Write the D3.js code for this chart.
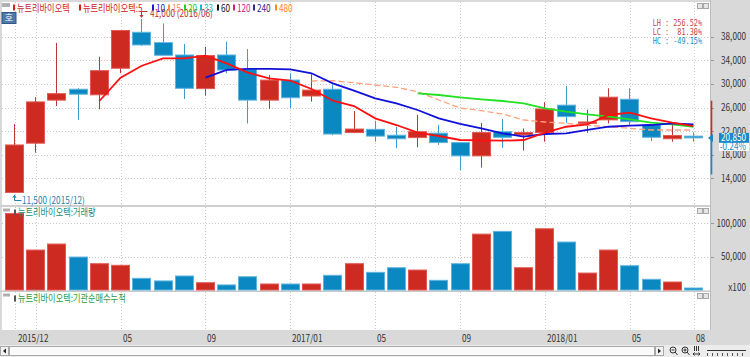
<!DOCTYPE html>
<html><head><meta charset="utf-8">
<script src="https://cdn.jsdelivr.net/npm/d3@7"></script>
<style>html,body{margin:0;padding:0;background:#fff;overflow:hidden}svg{display:block}</style>
</head><body><svg id="c" width="750" height="357"></svg>
<script>
// ---------------- DATA ----------------
const months = ["2015/12","2016/01","2016/02","2016/03","2016/04","2016/05","2016/06","2016/07","2016/08","2016/09","2016/10","2016/11",
  "2016/12","2017/01","2017/02","2017/03","2017/04","2017/05","2017/06","2017/07","2017/08","2017/09","2017/10","2017/11",
  "2017/12","2018/01","2018/02","2018/03","2018/04","2018/05","2018/06","2018/07","2018/08"];
const openP  = [11600,19950,27250,29100,28150,32650,38750,37000,34900,29200,34900,32450,27250,30650,27950,29100,21750,22300,21300,20900,21650,20050,17800,21900,21350,21750,26400,23350,23900,27400,23050,20700,21150];
const highP  = [23200,27750,36950,29250,34600,39100,41000,40250,36750,36300,37150,35900,31500,31800,31650,29800,25400,23750,22750,24750,23050,20100,23400,24050,22450,26900,29650,25600,29250,29250,23100,23050,21800];
const lowP   = [11500,18350,26250,23900,25700,31800,36450,34800,27450,28000,31800,23300,25750,25850,27000,21300,21650,20200,19100,19250,19650,15400,15800,19200,18700,20200,23400,21700,23300,23050,20300,20200,20200];
const closeP = [19650,26950,28350,28250,32250,39050,36600,34850,29250,34800,32350,27250,30650,27650,28950,21500,22350,21150,20700,21900,20050,17800,21750,20950,21750,25750,24450,23550,27750,23600,20950,21250,20850];
const volume = [114800,59900,68900,49400,39400,37000,17500,13600,21000,10900,7600,19900,9000,9000,9000,22000,39400,26500,33400,29900,14500,39400,83800,87900,33400,91800,71900,25400,59900,36400,16000,12000,3000];
const ma5  = [null,null,null,null,27100,31050,33080,34340,34340,34800,33490,31900,30950,30540,29140,27150,26250,24170,23030,21730,21170,20490,20440,20370,20490,21730,22740,23150,24730,25120,24170,23420,22850];
const ma10 = [null,null,null,null,null,null,null,null,null,31050,32360,32530,32530,32470,31800,30100,28850,27560,26710,25580,24170,23240,22470,21630,21050,21510,21630,22190,22740,22920,23030,23320,23150];
const ma15 = [null,null,null,null,null,null,null,null,null,null,null,null,null,null,30490,30540,30200,29810,29420,28680,27270,25910,25460,24900,23880,23540,23320,22980,22740,22470,22190,22190,22190];
const ma20 = [null,null,null,null,null,null,null,null,null,null,null,null,null,null,null,null,null,null,null,28410,28120,27700,27390,27100,26710,25860,25290,24850,24440,24000,23420,23150,22740];
const priceTicks = [14000,18000,22000,26000,30000,34000,38000];
const volTicks = [50000,100000];
const xLabelIdx = [0,5,9,13,17,21,25,29,32];
const xLabelText = ["2015/12","05","09","2017/01","05","09","2018/01","05","08"];
const gridIdx = [0,1,5,9,13,17,21,25,29,32];
const legendNames = ["뉴트리바이오텍","뉴트리바이오텍:5","10","15","20","33","60","120","240","480"];
const legendColors = ["#c8282a","#d42020","#1a1ad8","#ff8a50","#22cc22","#20b8c8","#111111","#e0188a","#2a2a90","#ff8a20"];
const legendX = [13,79,152,168,184,200,217,233,253,275];
const lastPrice = 20850, changePct = "-0.24%", upperLimit = 27150, lowerLimit = 14650;
const statLines = ["LH : 256.52%","LC :  81.30%","HC : -49.15%"];
const highNote = "41,000 (2016/06)", lowNote = "11,500 (2015/12)";
const volTitle = "뉴트리바이오텍:거래량", instTitle = "뉴트리바이오텍:기관순매수누적";

// ---------------- SETUP ----------------
const FONT = "'Noto Sans CJK KR','Noto Sans',sans-serif";
const svg = d3.select("#c");
const W = 750, H = 357;
const PX0 = 2, PX1 = 710;               // plot x extent
const MAIN = [2, 205], VOL = [207, 290.5], INST = [292, 330];

const x = d3.scaleLinear().domain([0, 32]).range([14.5, 693.5]);
const y = d3.scaleLinear().domain([14000, 38000]).range([178.3, 36.7]);
const yv = d3.scaleLinear().domain([0, 100000]).range([290, 223.3]);

function label(parent, px, py, s, o = {}) {
  const g = parent.append("g").attr("transform", `translate(${px},${py}) scale(${o.sx ?? 0.82},1)`);
  return g.append("text").attr("x", 0).attr("y", 0).attr("dy", o.dy ?? "0.35em")
    .attr("text-anchor", o.anchor || "start").attr("font-family", o.family || FONT)
    .attr("font-size", o.size || 10).attr("fill", o.fill || "#333").attr("xml:space", "preserve").text(s);
}

// backgrounds
svg.append("rect").attr("width", W).attr("height", H).attr("fill", "#d9d9d9");
[MAIN, VOL, INST].forEach(p => {
  svg.append("rect").attr("x", PX0).attr("y", p[0]).attr("width", PX1 - PX0).attr("height", p[1] - p[0]).attr("fill", "#fff");
});
svg.append("line").attr("x1", 0).attr("x2", PX1).attr("y1", 206).attr("y2", 206).attr("stroke", "#c4c4c4");
svg.append("line").attr("x1", 0).attr("x2", PX1).attr("y1", 291.2).attr("y2", 291.2).attr("stroke", "#c4c4c4");
svg.append("line").attr("x1", PX1 + 0.5).attr("x2", PX1 + 0.5).attr("y1", 0).attr("y2", 330).attr("stroke", "#bdbdbd");

// vertical grid
const grid = svg.append("g").attr("stroke", "#c8c8c8").attr("stroke-dasharray", "1,2");
[MAIN, VOL, INST].forEach(p => {
  grid.selectAll(null).data(gridIdx).join("line")
    .attr("x1", d => Math.round(x(d)) + 0.5).attr("x2", d => Math.round(x(d)) + 0.5)
    .attr("y1", p[0]).attr("y2", p[1]);
});
// horizontal grid main
grid.selectAll(null).data(priceTicks).join("line")
  .attr("x1", PX0).attr("x2", PX1).attr("y1", d => Math.round(y(d)) + 0.5).attr("y2", d => Math.round(y(d)) + 0.5);
grid.selectAll(null).data(volTicks).join("line")
  .attr("x1", PX0).attr("x2", PX1).attr("y1", d => Math.round(yv(d)) + 0.5).attr("y2", d => Math.round(yv(d)) + 0.5);

// clip
svg.append("clipPath").attr("id", "cm").append("rect").attr("x", PX0).attr("y", MAIN[0]).attr("width", PX1 - PX0).attr("height", MAIN[1] - MAIN[0]);
const main = svg.append("g").attr("clip-path", "url(#cm)");

const up = i => closeP[i] >= openP[i];
const RED = "#cd2a22", RED_E = "#e25a52", RED_W = "#b8383a";
const BLUE = "#0b87c1", BLUE_E = "#5fb5e0", BLUE_W = "#3c9ad0";

// candles
const idx = d3.range(months.length);
main.selectAll(".wick").data(idx).join("line")
  .attr("x1", i => Math.floor(x(i)) + 0.5).attr("x2", i => Math.floor(x(i)) + 0.5)
  .attr("y1", i => y(highP[i])).attr("y2", i => y(lowP[i]))
  .attr("stroke", i => up(i) ? RED_W : BLUE_W).attr("stroke-width", 1);
main.selectAll(".body").data(idx).join("rect")
  .attr("x", i => Math.floor(x(i)) - 9 + 0.5)
  .attr("y", i => y(Math.max(openP[i], closeP[i])))
  .attr("width", 18)
  .attr("height", i => Math.max(1.5, Math.abs(y(openP[i]) - y(closeP[i]))))
  .attr("fill", i => up(i) ? RED : BLUE)
  .attr("stroke", i => up(i) ? RED_E : BLUE_E).attr("stroke-width", 1);

// moving averages
const lineGen = d3.line().defined(d => d.v != null).x(d => x(d.i)).y(d => y(d.v));
const asPts = arr => arr.map((v, i) => ({ i, v }));
main.append("path").attr("d", lineGen(asPts(ma15))).attr("fill", "none").attr("stroke", "#ffa27c").attr("stroke-width", 1.3).attr("stroke-dasharray", "6,3");
main.append("path").attr("d", lineGen(asPts(ma20))).attr("fill", "none").attr("stroke", "#22e022").attr("stroke-width", 1.8);
main.append("path").attr("d", lineGen(asPts(ma10))).attr("fill", "none").attr("stroke", "#1010d8").attr("stroke-width", 1.8);
main.append("path").attr("d", lineGen(asPts(ma5))).attr("fill", "none").attr("stroke", "#ff1010").attr("stroke-width", 1.8);

// high / low notes
const hi = d3.maxIndex(highP), lo = d3.minIndex(lowP);
const hx = Math.floor(x(hi)) + 0.5, lx = Math.floor(x(lo)) + 0.5;
svg.append("path").attr("d", `M${hx + 6},11.5 H${hx} V${y(highP[hi]) - 2}`).attr("fill", "none").attr("stroke", "#c03030");
svg.append("path").attr("d", `M${hx - 2},${y(highP[hi]) - 4} L${hx + 2},${y(highP[hi]) - 4} L${hx},${y(highP[hi]) - 1}Z`).attr("fill", "#c03030");
label(svg, 150, 13.5, highNote, { fill: "#b83030" });
svg.append("path").attr("d", `M${lx + 7},200.5 H${lx} V${y(lowP[lo]) + 2}`).attr("fill", "none").attr("stroke", "#2a82b0");
svg.append("path").attr("d", `M${lx - 2},${y(lowP[lo]) + 4.5} L${lx + 2},${y(lowP[lo]) + 4.5} L${lx},${y(lowP[lo]) + 1.5}Z`).attr("fill", "#2a82b0");
label(svg, 22, 200, lowNote, { fill: "#2a82b0" });

// legend
legendNames.forEach((n, k) => {
  svg.append("rect").attr("x", legendX[k]).attr("y", 4.5).attr("width", 2).attr("height", 6).attr("fill", legendColors[k]);
  label(svg, legendX[k] + 4, 8, n, { fill: legendColors[k] });
});
// 호 button & small boxes
svg.append("rect").attr("x", 2).attr("y", 3).attr("width", 8).attr("height", 4).attr("fill", "#b0b0b0");
svg.append("rect").attr("x", 2).attr("y", 12.5).attr("width", 14).attr("height", 11).attr("fill", "#4f79a8").attr("stroke", "#2f5888");
label(svg, 9, 18, "호", { anchor: "middle", fill: "#fff", size: 9, sx: 1 });
[[3.5], [208.5], [293.5]].forEach(([yy]) => {
  svg.append("rect").attr("x", 697.5).attr("y", yy).attr("width", 5).attr("height", 5).attr("fill", "#e6e6e6").attr("stroke", "#a8a8a8");
  svg.append("rect").attr("x", 703.5).attr("y", yy).attr("width", 5).attr("height", 5).attr("fill", "#e6e6e6").attr("stroke", "#a8a8a8");
});
svg.append("rect").attr("x", 3).attr("y", 208.5).attr("width", 7).attr("height", 3).attr("fill", "#b0b0b0");
svg.append("rect").attr("x", 3).attr("y", 293.5).attr("width", 7).attr("height", 3).attr("fill", "#b0b0b0");

// stats
statLines.forEach((s, k) => {
  label(svg, 702, 22.5 + k * 9, s, { anchor: "end", family: "'DejaVu Sans Mono',monospace", size: 9.5, sx: 0.72, fill: k < 2 ? "#d03a3a" : "#1a88c8" });
});

// volume bars
svg.selectAll(".vb").data(idx).join("rect")
  .attr("x", i => Math.floor(x(i)) - 9 + 0.5).attr("y", i => yv(volume[i]))
  .attr("width", 18).attr("height", i => yv(0) - yv(volume[i]))
  .attr("fill", i => up(i) ? RED : BLUE).attr("stroke", i => up(i) ? RED_E : BLUE_E);

// panel titles
svg.append("rect").attr("x", 14).attr("y", 209.5).attr("width", 2).attr("height", 6).attr("fill", "#555");
label(svg, 18, 212.5, volTitle, { fill: "#1a8a78" });
svg.append("rect").attr("x", 14).attr("y", 295.5).attr("width", 2).attr("height", 6).attr("fill", "#555");
label(svg, 18, 298.5, instTitle, { fill: "#2a9a40" });

// right axis
const ax = svg.append("g");
priceTicks.forEach(v => {
  ax.append("line").attr("x1", PX1 + 1).attr("x2", PX1 + 4).attr("y1", Math.round(y(v)) + 0.5).attr("y2", Math.round(y(v)) + 0.5).attr("stroke", "#999");
  label(ax, 746, y(v), d3.format(",")(v), { anchor: "end", fill: "#333" });
});
volTicks.forEach(v => {
  ax.append("line").attr("x1", PX1 + 1).attr("x2", PX1 + 4).attr("y1", Math.round(yv(v)) + 0.5).attr("y2", Math.round(yv(v)) + 0.5).attr("stroke", "#999");
  label(ax, 746, yv(v), d3.format(",")(v), { anchor: "end", fill: "#333" });
});
label(ax, 746, 287, "x100", { anchor: "end", fill: "#333" });

// limit bar & current price
svg.append("line").attr("x1", 711.5).attr("x2", 711.5).attr("y1", y(upperLimit)).attr("y2", y(lastPrice)).attr("stroke", "#d02a2a").attr("stroke-width", 1.6);
svg.append("line").attr("x1", 711.5).attr("x2", 711.5).attr("y1", y(lastPrice)).attr("y2", y(lowerLimit)).attr("stroke", "#1a88c8").attr("stroke-width", 1.6);
svg.append("path").attr("d", `M708,${y(lastPrice)} L713,${y(lastPrice) - 4} L713,${y(lastPrice) + 4}Z`).attr("fill", "#1a88c8");
svg.append("rect").attr("x", 719).attr("y", y(lastPrice) - 5).attr("width", 30).attr("height", 10).attr("fill", "#1a88c8");
label(svg, 746, y(lastPrice), d3.format(",")(lastPrice), { anchor: "end", fill: "#fff" });
svg.append("rect").attr("x", 719).attr("y", y(lastPrice) + 5).attr("width", 30).attr("height", 8).attr("fill", "#fff");
label(svg, 746, y(lastPrice) + 9, changePct, { anchor: "end", fill: "#1a88c8" });

// x axis labels
xLabelIdx.forEach((d, k) => {
  label(svg, Math.round(x(d)) + (k === 0 ? 3 : 2), 338, xLabelText[k], { fill: "#333" });
});

// scrollbar
const sb = svg.append("g");
sb.append("rect").attr("x", 0).attr("y", 345).attr("width", W).attr("height", 12).attr("fill", "#ececec");
sb.append("rect").attr("x", 9.5).attr("y", 346.5).attr("width", 645).attr("height", 9).attr("fill", "#fafafa").attr("stroke", "#a8a8a8");
sb.append("rect").attr("x", 0.5).attr("y", 346.5).attr("width", 8).attr("height", 9).attr("fill", "#f4f4f4").attr("stroke", "#a8a8a8");
sb.append("path").attr("d", "M3,351 L6,348.5 L6,353.5Z").attr("fill", "#222");
sb.append("rect").attr("x", 655.5).attr("y", 346.5).attr("width", 8).attr("height", 9).attr("fill", "#f4f4f4").attr("stroke", "#a8a8a8");
sb.append("path").attr("d", "M661,351 L658,348.5 L658,353.5Z").attr("fill", "#222");
[673, 685].forEach((cx, k) => {
  sb.append("circle").attr("cx", cx).attr("cy", 350).attr("r", 3).attr("fill", "none").attr("stroke", "#333");
  sb.append("line").attr("x1", cx + 2).attr("y1", 352).attr("x2", cx + 4.5).attr("y2", 355).attr("stroke", "#333");
  sb.append("line").attr("x1", cx - 1.5).attr("x2", cx + 1.5).attr("y1", 350).attr("y2", 350).attr("stroke", "#333");
  if (k === 1) sb.append("line").attr("x1", cx).attr("x2", cx).attr("y1", 348.5).attr("y2", 351.5).attr("stroke", "#333");
});
[694, 696, 698].forEach(xx => sb.append("line").attr("x1", xx + 0.5).attr("x2", xx + 0.5).attr("y1", 346).attr("y2", 351).attr("stroke", "#333"));
sb.append("path").attr("d", "M693,354 H700 M694.5,352.5 L693,354 L694.5,355.5 M698.5,352.5 L700,354 L698.5,355.5").attr("fill", "none").attr("stroke", "#333");
sb.append("line").attr("x1", 707).attr("x2", 746).attr("y1", 350.5).attr("y2", 350.5).attr("stroke", "#333");
d3.range(707, 747, 5).forEach(xx => sb.append("line").attr("x1", xx + 0.5).attr("x2", xx + 0.5).attr("y1", 353).attr("y2", 356).attr("stroke", "#555"));
</script></body></html>
